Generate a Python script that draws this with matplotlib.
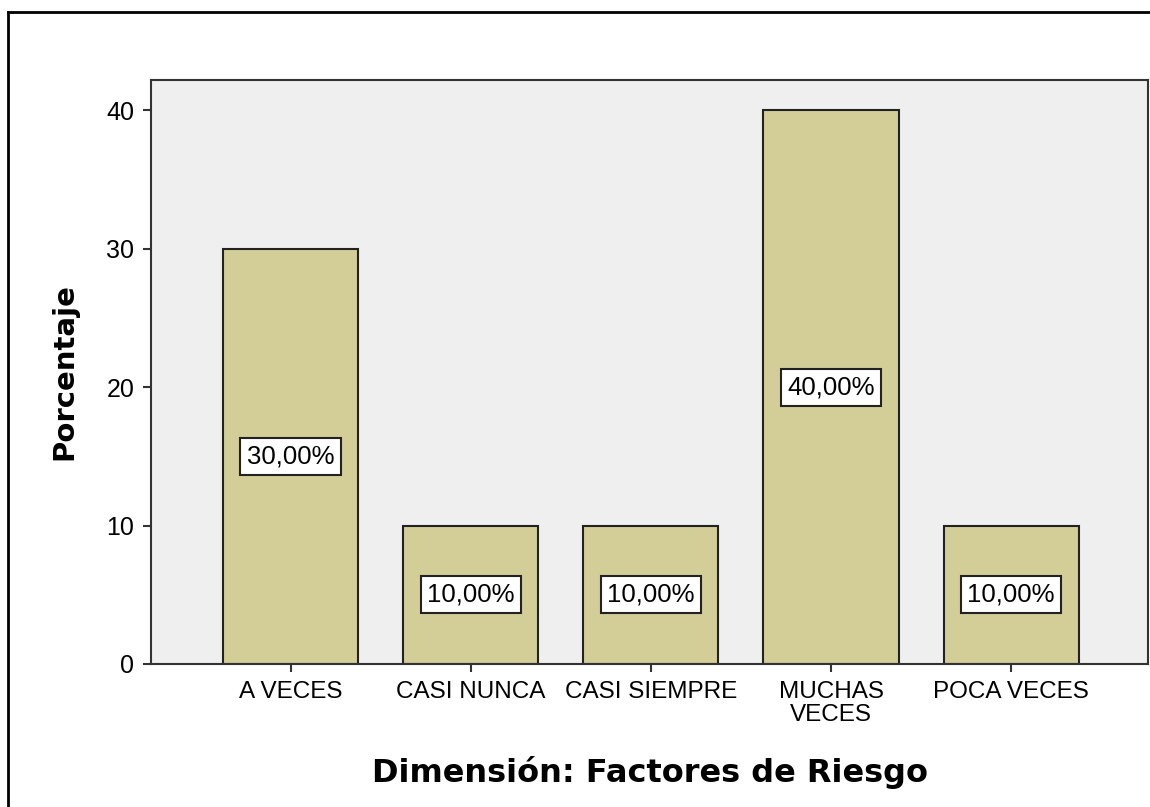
import matplotlib.pyplot as plt
from matplotlib.lines import Line2D

# Dimensión: Factores de Riesgo
categorias = ['A VECES', 'CASI NUNCA', 'CASI SIEMPRE', 'MUCHAS\nVECES', 'POCA VECES']
porcentajes = [30, 10, 10, 40, 10]
etiquetas = ['30,00%', '10,00%', '10,00%', '40,00%', '10,00%']
y_ticks = [0, 10, 20, 30, 40]

fig = plt.figure(figsize=(11.5, 8.07), dpi=100)
ax = fig.add_axes([0.1313, 0.1772, 0.867, 0.7237])
ax.set_facecolor('#efefef')

x = list(range(len(categorias)))
ax.bar(x, porcentajes, width=0.75, color='#d3ce97', edgecolor='#222222', linewidth=1.5, zorder=2)

for xi, v, lab in zip(x, porcentajes, etiquetas):
    ax.text(xi, v / 2, lab, ha='center', va='center', fontsize=18.5,
            family='Liberation Sans', zorder=3,
            bbox=dict(boxstyle='square,pad=0.25', facecolor='white', edgecolor='#222222', linewidth=1.5))

ax.set_xlim(-0.775, 4.76)
ax.set_ylim(0, 42.2)
ax.set_yticks(y_ticks)
ax.set_yticklabels([str(t) for t in y_ticks], family='Liberation Sans', fontsize=18)
ax.set_xticks(x)
ax.set_xticklabels(categorias, family='Liberation Sans', fontsize=17.5, linespacing=1.05)
ax.tick_params(axis='both', length=6, width=1.5, color='#333333')
ax.tick_params(axis='x', pad=6)
ax.tick_params(axis='y', pad=6)

for s in ax.spines.values():
    s.set_linewidth(1.5)
    s.set_color('#333333')

ax.set_ylabel('Porcentaje', fontsize=21, fontweight='bold', labelpad=20)
ax.set_xlabel('Dimensión: Factores de Riesgo', fontsize=23, fontweight='bold', labelpad=22)

# frame lines of the original screenshot (left and top only)
fig.add_artist(Line2D([8 / 1150, 8 / 1150], [0, 1 - 12 / 807], color='black', linewidth=2,
                      transform=fig.transFigure))
fig.add_artist(Line2D([8 / 1150, 1], [1 - 12 / 807, 1 - 12 / 807], color='black', linewidth=2,
                      transform=fig.transFigure))

plt.savefig('out.png', dpi=100)
